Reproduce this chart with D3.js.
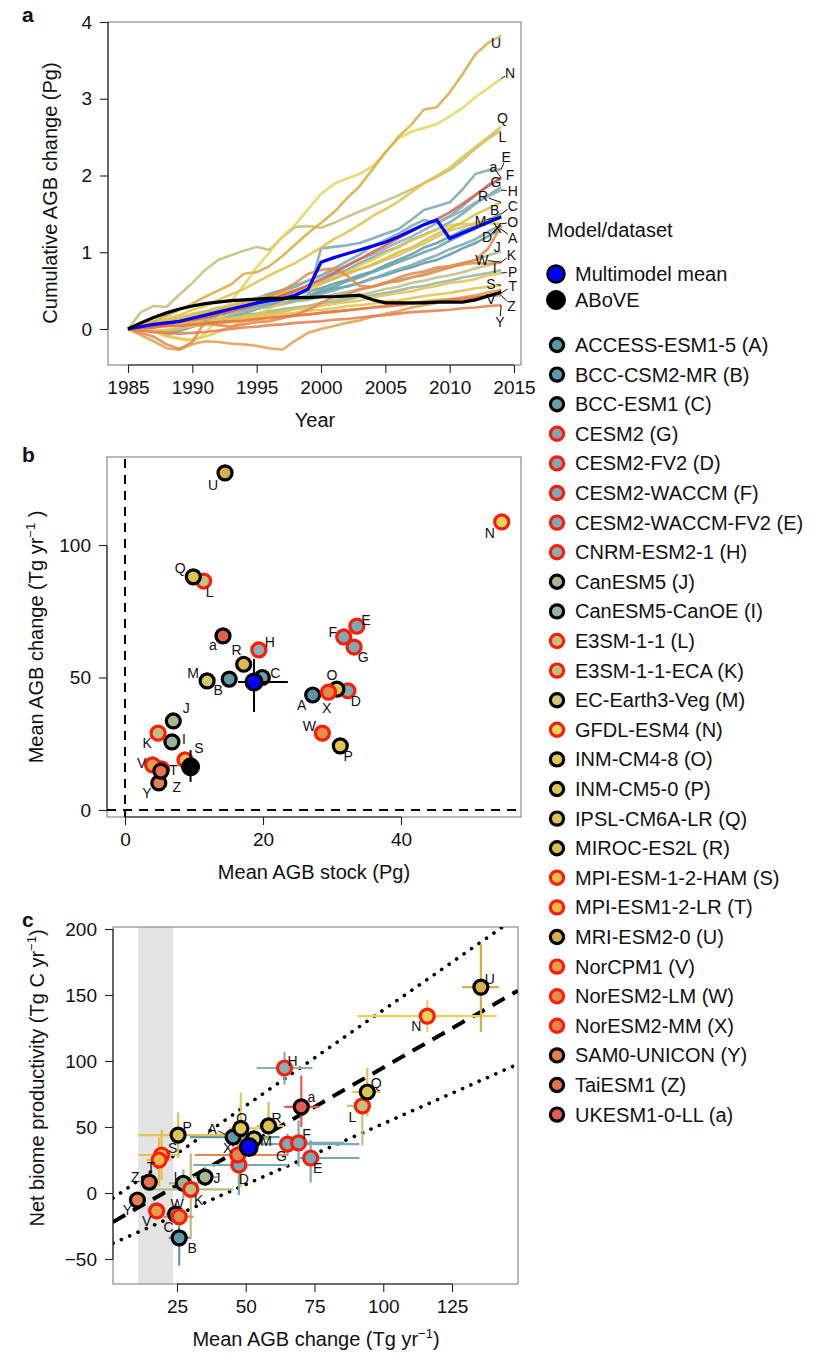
<!DOCTYPE html>
<html>
<head>
<meta charset="utf-8">
<script src="https://cdn.jsdelivr.net/npm/d3@7"></script>
<style>
  body { margin: 0; background: #fff; }
  text { font-family: "Liberation Sans", Arial, Helvetica, sans-serif; fill: #111; }
</style>
</head>
<body>
<script>
// ---------------- data ----------------
const years = [1985,1986,1987,1988,1989,1990,1991,1992,1993,1994,1995,1996,1997,1998,1999,
               2000,2001,2002,2003,2004,2005,2006,2007,2008,2009,2010,2011,2012,2013,2014];

// model codes, in legend (plotting) order
const codes = ["A","B","C","G","D","F","E","H","J","I","L","K","M","N","O","P","Q","R","S","T","U","V","W","X","Y","Z","a"];
const names = ["ACCESS-ESM1-5","BCC-CSM2-MR","BCC-ESM1","CESM2","CESM2-FV2","CESM2-WACCM","CESM2-WACCM-FV2",
  "CNRM-ESM2-1","CanESM5","CanESM5-CanOE","E3SM-1-1","E3SM-1-1-ECA","EC-Earth3-Veg","GFDL-ESM4","INM-CM4-8",
  "INM-CM5-0","IPSL-CM6A-LR","MIROC-ES2L","MPI-ESM-1-2-HAM","MPI-ESM1-2-LR","MRI-ESM2-0","NorCPM1",
  "NorESM2-LM","NorESM2-MM","SAM0-UNICON","TaiESM1","UKESM1-0-LL"];

// cumulative AGB change (Pg), one array per model
const agbA = [0,0.03,0.05,0.04,0.08,0.12,0.15,0.2,0.22,0.26,0.3,0.31,0.36,0.4,0.43,0.48,0.53,0.55,0.6,0.66,0.7,0.76,0.8,0.86,0.9,0.97,1.05,1.12,1.21,1.30];
const agbB = [0,0.02,0.05,0.08,0.1,0.14,0.17,0.2,0.25,0.28,0.33,0.36,0.41,0.44,0.49,0.53,0.59,0.64,0.7,0.75,0.83,0.9,0.97,1.06,1.12,1.2,1.28,1.34,1.42,1.48];
const agbC = [0,0.01,-0.04,-0.07,-0.03,0.03,0.07,0.12,0.17,0.2,0.26,0.3,0.35,0.38,0.44,0.5,0.55,0.62,0.67,0.74,0.8,0.87,0.93,1.0,1.06,1.15,1.23,1.31,1.42,1.50];
const agbD = [0,0.02,0.04,0.05,0.08,0.11,0.13,0.17,0.21,0.24,0.26,0.31,0.34,0.37,0.43,0.46,0.5,0.56,0.6,0.65,0.72,0.78,0.83,0.9,0.96,1.04,1.1,1.17,1.27,1.35];
const agbE = [0,0.02,-0.03,-0.06,0.0,0.05,0.11,0.17,0.22,0.26,0.29,0.33,0.36,0.4,0.42,1.05,1.07,1.09,1.12,1.18,1.24,1.3,1.42,1.55,1.6,1.65,1.82,2.02,2.07,2.08];
const agbF = [0,0.03,0.06,0.08,0.13,0.17,0.2,0.26,0.31,0.35,0.4,0.46,0.5,0.55,0.63,0.7,0.79,0.88,0.97,1.08,1.16,1.24,1.34,1.42,1.38,1.47,1.6,1.74,1.88,1.96];
const agbG = [0,-0.02,0.02,0.05,0.1,0.14,0.16,0.21,0.25,0.29,0.35,0.38,0.43,0.48,0.54,0.62,0.71,0.77,0.86,0.93,1.01,1.07,1.16,1.23,1.3,1.39,1.5,1.63,1.74,1.85];
const agbH = [0,0.03,0.07,0.09,0.12,0.17,0.21,0.24,0.3,0.34,0.39,0.46,0.51,0.57,0.63,0.69,0.77,0.83,0.91,0.97,1.05,1.13,1.2,1.29,1.38,1.46,1.54,1.65,1.73,1.81];
const agbI = [0,0.02,0.03,0.06,0.07,0.09,0.12,0.13,0.16,0.19,0.2,0.23,0.26,0.28,0.3,0.34,0.35,0.38,0.42,0.44,0.47,0.5,0.54,0.56,0.6,0.63,0.67,0.7,0.73,0.77];
const agbJ = [0,0.03,0.04,0.07,0.1,0.11,0.15,0.18,0.21,0.23,0.27,0.29,0.32,0.36,0.38,0.41,0.45,0.48,0.52,0.55,0.59,0.64,0.67,0.72,0.77,0.8,0.85,0.9,0.96,1.01];
const agbK = [0,-0.02,-0.04,-0.03,0.0,0.04,0.06,0.09,0.13,0.15,0.18,0.21,0.23,0.27,0.3,0.33,0.37,0.41,0.44,0.48,0.52,0.55,0.6,0.63,0.67,0.7,0.74,0.79,0.83,0.87];
const agbL = [0,0.22,0.3,0.29,0.45,0.6,0.77,0.9,0.96,1.02,1.07,1.03,1.2,1.33,1.34,1.32,1.38,1.46,1.53,1.6,1.67,1.74,1.82,1.9,1.98,2.07,2.2,2.35,2.48,2.59];
const agbM = [0,0.04,0.07,0.12,0.15,0.2,0.23,0.28,0.31,0.36,0.4,0.43,0.48,0.51,0.56,0.6,0.66,0.71,0.78,0.83,0.9,0.96,1.04,1.11,1.2,1.28,1.33,1.38,1.42,1.46];
const agbN = [0,0.03,-0.04,-0.1,-0.13,-0.16,-0.06,0.14,0.36,0.57,0.8,1.0,1.2,1.36,1.56,1.76,1.89,1.96,2.02,2.12,2.3,2.48,2.57,2.62,2.67,2.77,2.88,3.02,3.14,3.26];
const agbO = [0,0.01,-0.03,-0.08,-0.12,-0.14,-0.1,-0.04,0.03,0.1,0.18,0.27,0.34,0.43,0.5,0.58,0.67,0.74,0.83,0.9,0.99,1.06,1.15,1.22,1.3,1.35,1.37,1.36,1.38,1.37];
const agbP = [0,0.02,0.03,0.05,0.08,0.09,0.1,0.13,0.14,0.16,0.19,0.2,0.22,0.26,0.27,0.3,0.33,0.35,0.37,0.41,0.44,0.47,0.49,0.53,0.56,0.6,0.62,0.65,0.7,0.73];
const agbQ = [0,0.04,0.09,0.13,0.18,0.25,0.3,0.38,0.45,0.52,0.61,0.7,0.78,0.86,0.96,1.06,1.17,1.26,1.36,1.47,1.56,1.66,1.78,1.9,2.0,2.1,2.24,2.37,2.5,2.64];
const agbR = [0,0.03,0.07,0.1,0.13,0.18,0.23,0.26,0.3,0.35,0.38,0.42,0.47,0.5,0.56,0.6,0.65,0.73,0.78,0.84,0.92,1.0,1.06,1.15,1.24,1.31,1.39,1.49,1.57,1.65];
const agbS = [0,0.01,0.03,0.04,0.05,0.08,0.08,0.1,0.13,0.14,0.15,0.18,0.19,0.21,0.24,0.25,0.27,0.3,0.31,0.33,0.36,0.37,0.4,0.43,0.45,0.47,0.5,0.53,0.55,0.57];
const agbT = [0,0.0,-0.02,-0.01,0.01,0.04,0.05,0.06,0.09,0.1,0.12,0.13,0.16,0.17,0.19,0.21,0.22,0.25,0.26,0.28,0.31,0.32,0.34,0.36,0.38,0.39,0.41,0.43,0.45,0.47];
const agbU = [0,0.05,0.1,0.17,0.25,0.33,0.42,0.5,0.58,0.72,0.74,0.82,0.95,1.1,1.25,1.38,1.52,1.7,1.86,2.08,2.3,2.5,2.66,2.86,2.89,3.08,3.32,3.58,3.73,3.82];
const agbV = [0,-0.08,-0.16,-0.25,-0.27,-0.2,-0.16,-0.17,-0.19,-0.2,-0.22,-0.25,-0.27,-0.15,-0.05,0.0,0.04,0.08,0.11,0.16,0.2,0.23,0.28,0.31,0.34,0.38,0.41,0.44,0.48,0.51];
const agbW = [0,0.02,0.04,0.07,0.09,0.12,0.16,0.2,0.26,0.3,0.36,0.43,0.5,0.6,0.72,0.77,0.79,0.7,0.56,0.55,0.61,0.62,0.67,0.7,0.75,0.8,0.84,0.86,0.85,0.87];
const agbX = [0,-0.05,-0.1,-0.2,-0.26,-0.17,0.1,0.05,0.03,0.06,0.09,0.1,0.14,0.18,0.25,0.34,0.42,0.45,0.51,0.55,0.6,0.67,0.72,0.75,0.8,0.82,0.86,0.9,1.05,1.34];
const agbY = [0,-0.02,-0.04,-0.05,-0.06,-0.05,-0.04,-0.02,0.0,0.02,0.03,0.05,0.06,0.08,0.09,0.1,0.12,0.13,0.15,0.17,0.18,0.2,0.22,0.23,0.24,0.25,0.27,0.28,0.3,0.31];
const agbZ = [0,0.01,0.02,0.04,0.04,0.06,0.07,0.09,0.1,0.11,0.13,0.15,0.16,0.18,0.19,0.21,0.23,0.24,0.26,0.28,0.29,0.31,0.33,0.35,0.36,0.38,0.39,0.41,0.43,0.44];
const agba = [0,0.02,0.04,0.06,0.09,0.12,0.15,0.19,0.23,0.28,0.33,0.38,0.44,0.5,0.57,0.65,0.73,0.82,0.91,1.0,1.09,1.18,1.27,1.36,1.43,1.52,1.63,1.75,1.86,1.97];
const meanAGB  = [0,0.03,0.06,0.08,0.1,0.14,0.18,0.22,0.26,0.3,0.34,0.37,0.39,0.44,0.52,0.87,0.93,0.98,1.03,1.08,1.13,1.2,1.28,1.36,1.42,1.18,1.25,1.32,1.39,1.46];
const aboveAGB = [0,0.08,0.15,0.21,0.26,0.3,0.33,0.35,0.37,0.38,0.39,0.4,0.4,0.41,0.41,0.42,0.42,0.43,0.44,0.38,0.34,0.34,0.34,0.34,0.35,0.35,0.35,0.38,0.43,0.48];
const agbSeries = {A:agbA,B:agbB,C:agbC,D:agbD,E:agbE,F:agbF,G:agbG,H:agbH,I:agbI,J:agbJ,K:agbK,L:agbL,M:agbM,
  N:agbN,O:agbO,P:agbP,Q:agbQ,R:agbR,S:agbS,T:agbT,U:agbU,V:agbV,W:agbW,X:agbX,Y:agbY,Z:agbZ,a:agba};

// panel b: mean AGB stock (Pg) vs mean AGB change (Tg/yr), legend order
const stockB  = [27.2,15.1,19.9,33.2,32.3,31.7,33.6,19.4,7.0,6.8,11.4,4.8,11.9,54.6,30.7,31.2,9.9,17.2,8.7,5.3,14.5,4.0,28.6,29.5,4.9,5.2,14.2];
const changeB = [43.4,49.4,50.0,61.5,45.0,65.3,69.4,60.4,33.6,25.7,86.4,29.0,48.7,108.7,45.6,24.2,88.0,55.0,18.9,15.5,127.2,17.0,29.0,44.5,10.2,14.7,65.7];
const meanB  = {x: 18.7, y: 48.3, xLo: 16.4, xHi: 23.6, yLo: 37, yHi: 57};
const aboveB = {x: 9.5, y: 16.3, xLo: 8.3, xHi: 10.7, yLo: 10.6, yHi: 22.6};

// panel c: mean AGB change vs net biome productivity, with ranges
const agbC_x = [45.4,25.8,24.5,65.2,47.5,69.2,73.6,64.1,35.2,27.3,92.4,30,53,116,48.2,25.4,94.2,58.3,19.4,18.5,135.5,17.6,25.8,47.1,10.6,14.9,70.2];
const nbpC_y = [42.4,-34,-16,37.1,21.2,38,26.5,94.7,12.1,7.4,66,2.8,41,134,49,43.9,76.5,50.8,28.8,25,156,-13.6,-18,28.8,-5.3,8.3,65.2];
const agbC_lo = [29.7,22,21,55.8,30.9,66.7,69.6,54,31,22,86.7,15.2,48,90.6,44,10.9,88.8,54,10.9,14,128.6,15,20,31.5,8,12,64];
const agbC_hi = [62.3,30,28,91.3,65.4,85.9,91.3,74.3,40,33,95,45.4,58,141.3,58.6,44.2,99,64,26,23,142,20,31,64.9,13,18,76.8];
const nbpC_lo = [35,-55,-24,28,-1.5,20,8,82,5,-5,36,-35,35,122,4.5,26.5,58,40,10,5,122,-20,-25,20,-10,3,50];
const nbpC_hi = [50,-15,-8,45,30,55,40,107,20,18,78,30,48,146,76,61,95,69,48,42,189,-8,-10,38,0,13,89];
const meanC = {x: 51.1, y: 34.8};
const aboveRange = [10.9, 23.6];
const fitLine   = {slope: 1.19,  intercept: -24};
const upperLine = {slope: 1.45,  intercept: -6.4};
const lowerLine = {slope: 0.922, intercept: -39.7};

const tickA_x = [1985,1990,1995,2000,2005,2010,2015], tickA_y = [0,1,2,3,4];
const tickB_x = [0,20,40], tickB_y = [0,50,100];
const tickC_x = [25,50,75,100,125], tickC_y = [-50,0,50,100,150,200];

// ---------------- styles ----------------
const fillColor = {A:"#5b97a6",B:"#5f9aa8",C:"#68a0ad",G:"#7aaab4",D:"#7aaab4",F:"#7aaab4",E:"#7aaab4",H:"#88b0b5",
  J:"#a5b98f",I:"#98b49f",L:"#c2c27e",K:"#bcbf82",M:"#d5c56b",N:"#ebd45b",O:"#e2c754",P:"#dfc452",Q:"#e2c24f",
  R:"#dcbd4b",S:"#e4c14b",T:"#e6bd48",U:"#d8ae46",V:"#e4a04b",W:"#e59049",X:"#e6884c",Y:"#e67e50",Z:"#e8704e",a:"#e35f4b"};
const redRing = new Set(["G","D","F","E","H","L","K","N","S","T","V","W","X"]);
const ringColor = c => redRing.has(c) ? "#ff1a0a" : "#000";

// label anchors for panel a (data units) and label offsets (px) for panels b and c
const tagA = {U:[2013.6,3.73],N:[2014.7,3.34],Q:[2014.1,2.75],L:[2014.1,2.50],E:[2014.4,2.24],a:[2013.4,2.11],
  F:[2014.7,2.01],G:[2013.6,1.92],H:[2014.9,1.80],R:[2012.6,1.73],B:[2013.5,1.55],C:[2014.9,1.60],M:[2012.4,1.41],
  O:[2014.9,1.39],X:[2013.7,1.32],D:[2012.9,1.20],A:[2014.9,1.19],J:[2013.7,1.07],K:[2014.8,0.97],W:[2012.5,0.90],
  I:[2013.5,0.79],P:[2014.9,0.74],S:[2013.2,0.59],T:[2014.9,0.56],V:[2013.2,0.39],Z:[2014.8,0.30],Y:[2013.9,0.09]};
const tagB = {U:[-12,12],Q:[-13,-9],L:[6,11],a:[-10,9],H:[11,-8],R:[-7,-14],M:[-14,-8],B:[-11,11],C:[13,-5],
  J:[13,-13],I:[12,-3],K:[-11,10],S:[14,-12],V:[-11,-2],T:[12,1],Y:[-12,10],Z:[16,16],A:[-11,10],X:[-2,16],
  O:[-5,-14],D:[8,10],F:[-11,-5],E:[9,-6],G:[9,10],N:[-12,11],W:[-13,-7],P:[8,10]};
const tagC = {H:[8,-7],a:[10,-10],Q:[9,-9],L:[-10,11],R:[8,-8],O:[1,-10],A:[-21,-8],P:[9,-8],M:[12,2],X:[-10,-7],
  D:[5,14],G:[-6,12],F:[8,-9],E:[7,10],S:[11,-7],T:[-8,7],Z:[-14,-5],Y:[-10,10],I:[-8,-6],J:[12,1],K:[8,11],
  V:[-10,10],W:[-2,-13],C:[-7,13],B:[13,10],U:[9,-8],N:[-11,10]};

// ---------------- drawing ----------------
const svg = d3.select("body").append("svg").attr("width", 817).attr("height", 1354);
svg.append("rect").attr("width", 817).attr("height", 1354).attr("fill", "#fff");

function frame(f) {
  svg.append("rect").attr("x", f.x0).attr("y", f.y0).attr("width", f.x1 - f.x0).attr("height", f.y1 - f.y0)
    .attr("fill", "none").attr("stroke", "#8a8a8a").attr("stroke-width", 1.2);
}
function axes(f, x, y, tx, ty) {
  const gx = svg.append("g").attr("transform", `translate(0,${f.y1})`)
    .call(d3.axisBottom(x).tickValues(tx).tickSize(8).tickPadding(8).tickFormat(d3.format("d")));
  const gy = svg.append("g").attr("transform", `translate(${f.x0},0)`)
    .call(d3.axisLeft(y).tickValues(ty).tickSize(8).tickPadding(8).tickFormat(d => d < 0 ? "\u2212" + Math.abs(d) : d));
  [gx, gy].forEach(g => {
    g.select(".domain").remove();
    g.selectAll("text").attr("font-size", 19).attr("fill", "#111")
      .attr("font-family", '"Liberation Sans", Arial, sans-serif');
    g.selectAll("line").attr("stroke", "#222").attr("stroke-width", 1.1);
  });
  svg.append("line").attr("x1", x(tx[0])).attr("x2", x(tx[tx.length - 1])).attr("y1", f.y1).attr("y2", f.y1)
    .attr("stroke", "#222").attr("stroke-width", 1.1);
  svg.append("line").attr("y1", y(ty[0])).attr("y2", y(ty[ty.length - 1])).attr("x1", f.x0).attr("x2", f.x0)
    .attr("stroke", "#222").attr("stroke-width", 1.1);
}
function yTitle(x, y, parts) {
  const t = svg.append("text").attr("transform", `translate(${x},${y}) rotate(-90)`)
    .attr("text-anchor", "middle").attr("font-size", 20);
  parts.forEach(p => {
    const s = t.append("tspan").text(p.t);
    if (p.sup) s.attr("font-size", 13).attr("dy", -8);
    if (p.down) s.attr("dy", 8);
  });
  return t;
}
function panelTag(x, y, s) {
  svg.append("text").attr("x", x).attr("y", y).attr("font-size", 21).attr("font-weight", "bold").text(s);
}
function dot(g, cx, cy, fill, ring, r, sw) {
  g.append("circle").attr("cx", cx).attr("cy", cy).attr("r", r)
    .attr("fill", fill).attr("stroke", ring).attr("stroke-width", sw);
}

// ===== panel a =====
const fA = {x0: 108, x1: 521, y0: 22, y1: 365};
const xa = d3.scaleLinear().domain([1985, 2015]).range([128, 514]);
const ya = d3.scaleLinear().domain([0, 4]).range([329, 22]);
frame(fA);
axes(fA, xa, ya, tickA_x, tickA_y);
panelTag(22, 22, "a");
yTitle(57, 193, [{t: "Cumulative AGB change (Pg)"}]);
svg.append("text").attr("x", 315).attr("y", 427).attr("text-anchor", "middle").attr("font-size", 20).text("Year");

const lineA = d3.line().x((d, i) => xa(years[i])).y(d => ya(d));
const gA = svg.append("g");
const lineOrder = codes.filter(c => c !== "a").concat(["a"]);
lineOrder.forEach(c => {
  gA.append("path").datum(agbSeries[c]).attr("d", lineA).attr("fill", "none")
    .attr("stroke", fillColor[c]).attr("stroke-opacity", 0.88).attr("stroke-width", 2.6)
    .attr("stroke-linejoin", "round");
});
gA.append("path").datum(meanAGB).attr("d", lineA).attr("fill", "none").attr("stroke", "#0000ff").attr("stroke-width", 3.2);
gA.append("path").datum(aboveAGB).attr("d", lineA).attr("fill", "none").attr("stroke", "#000").attr("stroke-width", 3.2);

// end labels with leader lines
codes.forEach(c => {
  const s = agbSeries[c];
  const ex = xa(years[years.length - 1]), ey = ya(s[s.length - 1]);
  const lx = xa(tagA[c][0]), ly = ya(tagA[c][1]);
  const dist = Math.hypot(lx - ex, ly - ey);
  if (dist > 10) {
    const k = (dist - 6) / dist;
    svg.append("line").attr("x1", ex).attr("y1", ey).attr("x2", ex + (lx - ex) * k).attr("y2", ey + (ly - ey) * k)
      .attr("stroke", "#111").attr("stroke-width", 1);
  }
  svg.append("text").attr("x", lx).attr("y", ly).attr("dy", "0.36em").attr("text-anchor", "middle")
    .attr("font-size", 14).attr("fill", "#222").text(c);
});

// ===== legend =====
svg.append("text").attr("x", 547).attr("y", 237).attr("font-size", 20).text("Model/dataset");
dot(svg, 556, 274, "#0000ff", "#000", 8.5, 2.5);
svg.append("text").attr("x", 575).attr("y", 281).attr("font-size", 20).text("Multimodel mean");
dot(svg, 556, 300, "#000", "#000", 9.5, 1);
svg.append("text").attr("x", 575).attr("y", 307).attr("font-size", 20).text("ABoVE");
codes.forEach((c, i) => {
  const y = 345 + i * 29.6;
  dot(svg, 557, y, fillColor[c], ringColor(c), 6.6, 3.2);
  svg.append("text").attr("x", 575).attr("y", y + 7).attr("font-size", 20).text(`${names[i]} (${c})`);
});

// ===== panel b =====
const fB = {x0: 107, x1: 521, y0: 457, y1: 817};
const xb = d3.scaleLinear().domain([0, 40]).range([125, 401]);
const yb = d3.scaleLinear().domain([0, 100]).range([810, 545]);
frame(fB);
axes(fB, xb, yb, tickB_x, tickB_y);
panelTag(22, 462, "b");
yTitle(43, 637, [{t: "Mean AGB change (Tg yr"}, {t: "\u22121", sup: true}, {t: " )", down: true}]);
svg.append("text").attr("x", 314).attr("y", 879).attr("text-anchor", "middle").attr("font-size", 20).text("Mean AGB stock (Pg)");

svg.append("line").attr("x1", xb(0)).attr("x2", xb(0)).attr("y1", fB.y0 + 2).attr("y2", fB.y1)
  .attr("stroke", "#000").attr("stroke-width", 2).attr("stroke-dasharray", "9,7");
svg.append("line").attr("x1", fB.x0).attr("x2", fB.x1).attr("y1", yb(0)).attr("y2", yb(0))
  .attr("stroke", "#000").attr("stroke-width", 2).attr("stroke-dasharray", "9,7");

const gB = svg.append("g");
codes.forEach((c, i) => dot(gB, xb(stockB[i]), yb(changeB[i]), fillColor[c], ringColor(c), 7, 3.2));
// multimodel mean with spread
gB.append("line").attr("x1", xb(meanB.xLo)).attr("x2", xb(meanB.xHi)).attr("y1", yb(meanB.y)).attr("y2", yb(meanB.y))
  .attr("stroke", "#000").attr("stroke-width", 2);
gB.append("line").attr("x1", xb(meanB.x)).attr("x2", xb(meanB.x)).attr("y1", yb(meanB.yLo)).attr("y2", yb(meanB.yHi))
  .attr("stroke", "#000").attr("stroke-width", 2);
dot(gB, xb(meanB.x), yb(meanB.y), "#0000ff", "#000", 8, 3);
// ABoVE with spread
gB.append("line").attr("x1", xb(aboveB.x)).attr("x2", xb(aboveB.x)).attr("y1", yb(aboveB.yLo)).attr("y2", yb(aboveB.yHi))
  .attr("stroke", "#000").attr("stroke-width", 2);
dot(gB, xb(aboveB.x), yb(aboveB.y), "#000", "#000", 9, 1);
codes.forEach((c, i) => {
  svg.append("text").attr("x", xb(stockB[i]) + tagB[c][0]).attr("y", yb(changeB[i]) + tagB[c][1])
    .attr("dy", "0.36em").attr("text-anchor", "middle").attr("font-size", 14).attr("fill", "#333").text(c);
});

// ===== panel c =====
const fC = {x0: 113, x1: 518, y0: 927, y1: 1284};
const xc = d3.scaleLinear().domain([25, 125]).range([177, 452]);
const yc = d3.scaleLinear().domain([-50, 200]).range([1259, 929]);
svg.append("defs").append("clipPath").attr("id", "clipC").append("rect")
  .attr("x", fC.x0).attr("y", fC.y0).attr("width", fC.x1 - fC.x0).attr("height", fC.y1 - fC.y0);

svg.append("rect").attr("x", xc(aboveRange[0])).attr("y", fC.y0).attr("width", xc(aboveRange[1]) - xc(aboveRange[0]))
  .attr("height", fC.y1 - fC.y0).attr("fill", "#e3e3e3");
frame(fC);
axes(fC, xc, yc, tickC_x, tickC_y);
panelTag(22, 927, "c");
yTitle(44, 1078, [{t: "Net biome productivity (Tg C yr"}, {t: "\u22121", sup: true}, {t: ")", down: true}]);
const xtC = svg.append("text").attr("x", 316).attr("y", 1346).attr("text-anchor", "middle").attr("font-size", 20);
xtC.append("tspan").text("Mean AGB change (Tg yr");
xtC.append("tspan").text("\u22121").attr("font-size", 13).attr("dy", -8);
xtC.append("tspan").text(")").attr("dy", 8);

const gC = svg.append("g").attr("clip-path", "url(#clipC)");
const xEnds = [xc.invert(fC.x0), xc.invert(fC.x1)];
function regLine(p, dash, width) {
  gC.append("line").attr("x1", xc(xEnds[0])).attr("y1", yc(p.slope * xEnds[0] + p.intercept))
    .attr("x2", xc(xEnds[1])).attr("y2", yc(p.slope * xEnds[1] + p.intercept))
    .attr("stroke", "#000").attr("stroke-width", width).attr("stroke-dasharray", dash)
    .attr("stroke-linecap", dash.startsWith("0") ? "round" : "butt");
}
regLine(fitLine, "14,9", 4);
regLine(upperLine, "0.1,9", 3.6);
regLine(lowerLine, "0.1,9", 3.6);

codes.forEach((c, i) => {
  const col = fillColor[c];
  gC.append("line").attr("x1", xc(agbC_lo[i])).attr("x2", xc(agbC_hi[i])).attr("y1", yc(nbpC_y[i])).attr("y2", yc(nbpC_y[i]))
    .attr("stroke", col).attr("stroke-width", 2.2);
  gC.append("line").attr("x1", xc(agbC_x[i])).attr("x2", xc(agbC_x[i])).attr("y1", yc(nbpC_lo[i])).attr("y2", yc(nbpC_hi[i]))
    .attr("stroke", col).attr("stroke-width", 2.2);
});
codes.forEach((c, i) => dot(gC, xc(agbC_x[i]), yc(nbpC_y[i]), fillColor[c], ringColor(c), 7, 3.2));
dot(gC, xc(meanC.x), yc(meanC.y), "#0000ff", "#000", 8.5, 3);
codes.forEach((c, i) => {
  const px = xc(agbC_x[i]), py = yc(nbpC_y[i]);
  const lx = px + tagC[c][0], ly = py + tagC[c][1];
  const d = Math.hypot(tagC[c][0], tagC[c][1]);
  if (d > 18) {
    svg.append("line").attr("x1", lx + 6).attr("y1", ly + 2).attr("x2", px - 6).attr("y2", py - 2)
      .attr("stroke", "#222").attr("stroke-width", 1);
  }
  svg.append("text").attr("x", lx).attr("y", ly).attr("dy", "0.36em").attr("text-anchor", "middle")
    .attr("font-size", 14).attr("fill", "#333").text(c);
});
</script>
</body>
</html>
